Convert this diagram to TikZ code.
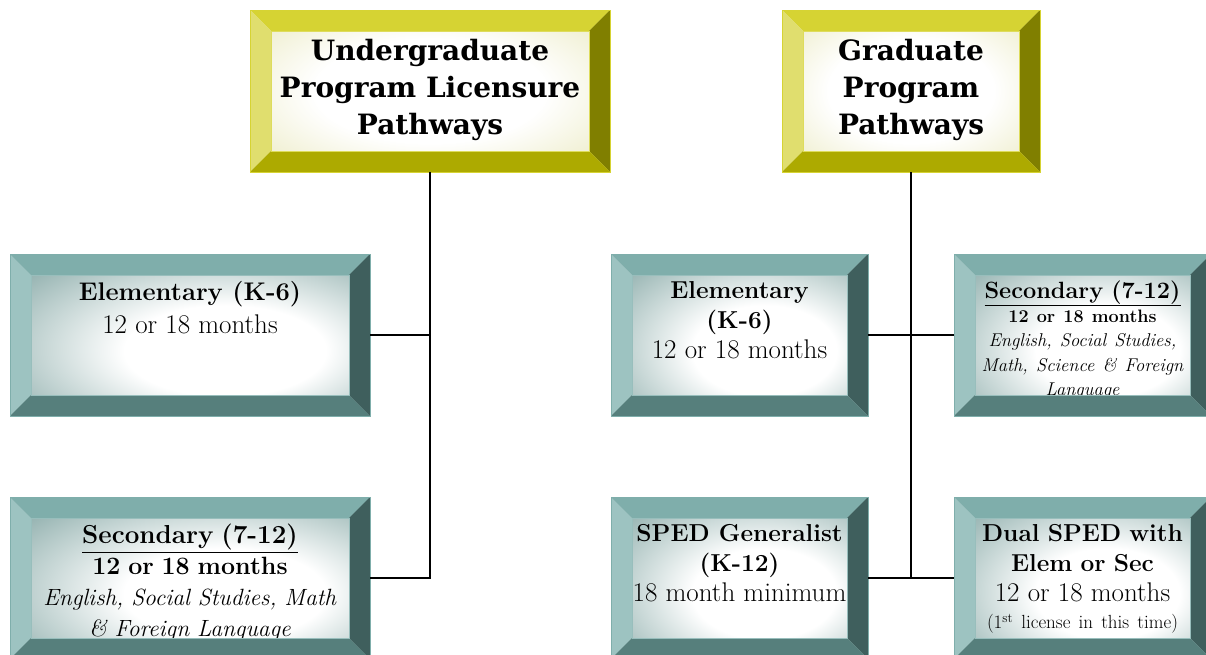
\documentclass[tikz,border=0pt]{standalone}
\usepackage{fontspec}
\usepackage{xcolor}
\usetikzlibrary{positioning,calc}

\newfontfamily\slabfont{DejaVu Serif}

\definecolor{tealtop}{HTML}{7FAEAB}
\definecolor{tealleft}{HTML}{9DC3C1}
\definecolor{tealright}{HTML}{3F5F5D}
\definecolor{tealbot}{HTML}{567F7C}
\definecolor{tealedge}{HTML}{6FA3A0}
\definecolor{tealfade}{HTML}{5F8C89}
\definecolor{yelltop}{HTML}{D6D333}
\definecolor{yellleft}{HTML}{E0DE6E}
\definecolor{yellright}{HTML}{807F00}
\definecolor{yellbot}{HTML}{ADAA00}
\definecolor{yelledge}{HTML}{CCCC00}
\definecolor{yellfade}{HTML}{D9D78C}

\pgfdeclareradialshading{tealglow}{\pgfpoint{6bp}{-6bp}}{color(0bp)=(white); color(14bp)=(white); color(44bp)=(tealfade); color(75bp)=(tealfade)}
\pgfdeclareradialshading{yellglow}{\pgfpoint{0bp}{0bp}}{color(0bp)=(white); color(16bp)=(white); color(50bp)=(yellfade); color(75bp)=(yellfade)}

% bevelled frame round a box: name, top, left, right, bottom
\def\bw{21}
\newcommand\bevelframe[5]{%
  \fill[#2] (#1.north west) -- (#1.north east) -- ($(#1.north east)+(-\bw,\bw)$) -- ($(#1.north west)+(\bw,\bw)$) -- cycle;
  \fill[#3] (#1.north west) -- ($(#1.north west)+(\bw,\bw)$) -- ($(#1.south west)+(\bw,-\bw)$) -- (#1.south west) -- cycle;
  \fill[#4] (#1.north east) -- (#1.south east) -- ($(#1.south east)+(-\bw,-\bw)$) -- ($(#1.north east)+(-\bw,\bw)$) -- cycle;
  \fill[#5] (#1.south west) -- ($(#1.south west)+(\bw,-\bw)$) -- ($(#1.south east)+(-\bw,-\bw)$) -- (#1.south east) -- cycle;
  \draw[#2, line width=0.8pt] (#1.north west) rectangle (#1.south east);
  \draw[#2!80!white, line width=0.5pt] ($(#1.north west)+(\bw,\bw)$) rectangle ($(#1.south east)+(-\bw,-\bw)$);
}
\newcommand\reg[1]{{\fontsize{27}{30}\selectfont #1}}

\begin{document}
\begin{tikzpicture}[x=1pt, y=-1pt, thick,
    framebox/.style={rectangle, draw=#1edge, shading=#1glow, minimum height=162pt, inner sep=0pt, outer sep=0pt},
    boxtext/.style={align=center, inner sep=0pt, font=\fontsize{24.5}{30}\selectfont},
    headtext/.style={align=center, inner sep=0pt, font=\slabfont\bfseries\fontsize{28}{37}\selectfont},
    link/.style={line width=2pt}]

    \useasboundingbox (0,0) rectangle (1206,654);

    % boxes
    \node[framebox=yell, minimum width=360pt] (ugHead) at (430,91) {};
    \node[framebox=yell, minimum width=258pt] (grHead) at (911,91) {};
    \node[framebox=teal, minimum width=360pt] (ugElem) at (190,335) {};
    \node[framebox=teal, minimum width=360pt] (ugSec) at (190,578) {};
    \node[framebox=teal, minimum width=257pt] (grElem) at (739.5,335) {};
    \node[framebox=teal, minimum width=257pt] (grSec) at (1082.5,335) {};
    \node[framebox=teal, minimum width=257pt] (grSped) at (739.5,578) {};
    \node[framebox=teal, minimum width=257pt] (grDual) at (1082.5,578) {};

    % texts
    \node[headtext, below=29pt of ugHead.north] (ugHeadTxt) {Undergraduate\\Program Licensure\\Pathways};
    \node[headtext, below=29pt of grHead.north] (grHeadTxt) {Graduate\\Program\\Pathways};
    \node[boxtext, below=27pt of ugElem.north, font=\fontsize{25.5}{33}\selectfont] (ugElemTxt)
        {\textbf{Elementary (K-6)}\\\reg{12 or 18 months}};
    \node[boxtext, below=27pt of ugSec.north, text width=330pt, font=\fontsize{23.5}{31}\selectfont] (ugSecTxt)
        {{\fontsize{26}{31}\selectfont\underline{\textbf{Secondary (7-12)}}\par}
         {\fontsize{25}{31}\selectfont\textbf{12 or 18 months}\par}
         \textit{English, Social Studies, Math}\\\textit{\& Foreign Language}};
    \node[boxtext, below=27pt of grElem.north] (grElemTxt)
        {\textbf{Elementary}\\\textbf{(K-6)}\\\reg{12 or 18 months}};
    \node[boxtext, below=26pt of grSec.north, text width=222pt] (grSecTxt)
        {{\fontsize{23.5}{27}\selectfont\underline{\textbf{Secondary (7-12)}}\par}
         {\fontsize{18}{24}\selectfont\textbf{12 or 18 months}\par}
         {\fontsize{18.5}{24.5}\selectfont\itshape English, Social Studies,\\Math, Science \& Foreign\\Language\par}};
    \node[boxtext, below=27pt of grSped.north] (grSpedTxt)
        {\textbf{SPED Generalist}\\\textbf{(K-12)}\\\reg{18 month minimum}};
    \node[boxtext, below=27pt of grDual.north, text width=222pt] (grDualTxt)
        {\textbf{Dual SPED with}\\\textbf{Elem or Sec}\\\reg{12 or 18 months}\par
         {\fontsize{19}{27}\selectfont(1\textsuperscript{st} license in this time)\par}};

    % bevels
    \foreach \b in {ugHead,grHead}
        \bevelframe{\b}{yelltop}{yellleft}{yellright}{yellbot};
    \foreach \b in {ugElem,ugSec,grElem,grSec,grSped,grDual}
        \bevelframe{\b}{tealtop}{tealleft}{tealright}{tealbot};

    % connectors
    \draw[link] (ugHead.south) -- (ugHead.south |- ugSec.east) -- (ugSec.east);
    \draw[link] (ugElem.east) -- (ugElem.east -| ugHead.south);
    \draw[link] (grHead.south) -- (grHead.south |- grSped.east);
    \draw[link] (grElem.east) -- (grSec.west);
    \draw[link] (grSped.east) -- (grDual.west);
\end{tikzpicture}
\end{document}
